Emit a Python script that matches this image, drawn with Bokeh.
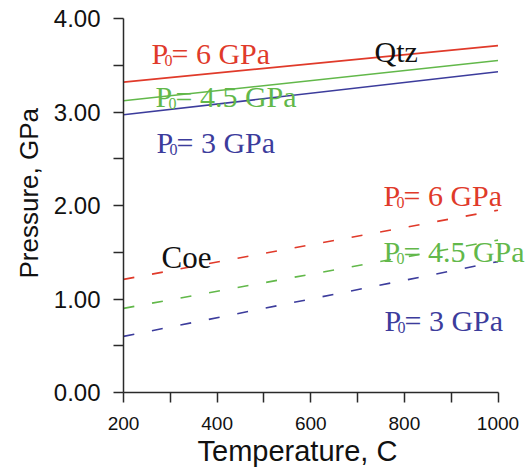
import math
from bokeh.plotting import figure
from bokeh.models import Range1d, FixedTicker, NumeralTickFormatter, Label, Title
from bokeh.embed import file_html
from bokeh.resources import INLINE

# ---- data ----
temps = [200, 1000]
qtz_p0_6 = [3.32, 3.71]
qtz_p0_45 = [3.12, 3.55]
qtz_p0_3 = [2.97, 3.43]
coe_p0_6 = [1.21, 1.95]
coe_p0_45 = [0.90, 1.63]
coe_p0_3 = [0.60, 1.40]

x_ticks = [200, 400, 600, 800, 1000]
x_minor = [300, 500, 700, 900]
y_ticks = [0, 1, 2, 3, 4]
y_minor = [0.5, 1.5, 2.5, 3.5]
p0_values = ["6", "4.5", "3"]

# ---- styles ----
RED = "#e03a2a"
GREEN = "#62b84a"
BLUE = "#3c3c9c"
AXIS = "#2a2a2a"
INK = "#111111"
SERIF = "Liberation Serif"
SANS = "Liberation Sans"
LBL = "30px"
SUB = "16px"

W, H = 532, 469
LEFT, TOP, BOTTOM = 123, 18, 77
PX_PER_DEG = 374.5 / 800.0
x_end = 200 + (W - LEFT) / PX_PER_DEG
PX_PER_GPA = (H - TOP - BOTTOM) / 4.0

p = figure(width=W, height=H, output_backend="svg", toolbar_location=None,
           title=None, x_range=Range1d(200, x_end), y_range=Range1d(0, 4),
           min_border_left=LEFT, min_border_right=0, min_border_top=TOP,
           min_border_bottom=BOTTOM)
p.outline_line_color = None
p.xgrid.visible = False
p.ygrid.visible = False
p.background_fill_color = "white"
p.border_fill_color = "white"

for ax in (p.xaxis[0], p.yaxis[0]):
    ax.axis_line_color = AXIS
    ax.axis_line_width = 1.5
    ax.major_tick_line_color = AXIS
    ax.minor_tick_line_color = AXIS
    ax.major_tick_line_width = 1.5
    ax.minor_tick_line_width = 1.5
    ax.major_tick_in = 0
    ax.major_tick_out = 10
    ax.minor_tick_in = 0
    ax.minor_tick_out = 10
    ax.major_label_text_font = SANS
    ax.major_label_text_color = INK

p.xaxis[0].ticker = FixedTicker(ticks=x_ticks, minor_ticks=x_minor)
p.xaxis[0].bounds = (200, 1000)
p.xaxis[0].major_label_text_font_size = "19px"
p.xaxis[0].major_label_standoff = 14
p.yaxis[0].ticker = FixedTicker(ticks=y_ticks, minor_ticks=y_minor)
p.yaxis[0].formatter = NumeralTickFormatter(format="0.00")
p.yaxis[0].major_label_text_font_size = "24px"
p.yaxis[0].major_label_standoff = 13

# axis titles as side-panel titles (positioned like the reference)
p.add_layout(Title(text="Temperature, C", align="left", offset=197 - LEFT, standoff=0,
                   text_font=SANS, text_font_size="29px", text_font_style="normal",
                   text_color=INK), "below")
p.add_layout(Title(text="Pressure, GPa", align="left", offset=114, standoff=14,
                   text_font=SANS, text_font_size="26px", text_font_style="normal",
                   text_color=INK), "left")

# ---- lines ----
for vals, col in ((qtz_p0_6, RED), (qtz_p0_45, GREEN), (qtz_p0_3, BLUE)):
    p.line(temps, vals, line_color=col, line_width=1.6)
for vals, col in ((coe_p0_6, RED), (coe_p0_45, GREEN), (coe_p0_3, BLUE)):
    p.line(temps, vals, line_color=col, line_width=1.6, line_dash="11 18")

# ---- P0 labels ----
def p0_label(x, y, val, col):
    p.add_layout(Label(x=x, y=y, text="P", text_font=SERIF, text_font_size=LBL,
                       text_color=col, text_align="left", text_baseline="alphabetic"))
    p.add_layout(Label(x=x, y=y - 7 / PX_PER_GPA, x_offset=13, text="0", text_font=SERIF,
                       text_font_size=SUB, text_color=col, text_align="left",
                       text_baseline="alphabetic"))
    p.add_layout(Label(x=x, y=y, x_offset=20, text="= " + val + " GPa", text_font=SERIF,
                       text_font_size=LBL, text_color=col, text_align="left",
                       text_baseline="alphabetic"))

p0_label(259.8, 3.626, p0_values[0], RED)
p0_label(268.4, 3.166, p0_values[1], GREEN)
p0_label(270.5, 2.674, p0_values[2], BLUE)
p0_label(755.4, 2.107, p0_values[0], RED)
p0_label(755.4, 1.508, p0_values[1], GREEN)
p0_label(757.5, 0.770, p0_values[2], BLUE)

p.add_layout(Label(x=736.2, y=3.647, text="Qtz", text_font=SERIF, text_font_size=LBL,
                   text_color=INK, text_align="left", text_baseline="alphabetic"))
p.add_layout(Label(x=281.2, y=1.444, text="Coe", text_font=SERIF, text_font_size="31px",
                   text_color=INK, text_align="left", text_baseline="alphabetic"))

open("out.html", "w").write(file_html(p, INLINE))
